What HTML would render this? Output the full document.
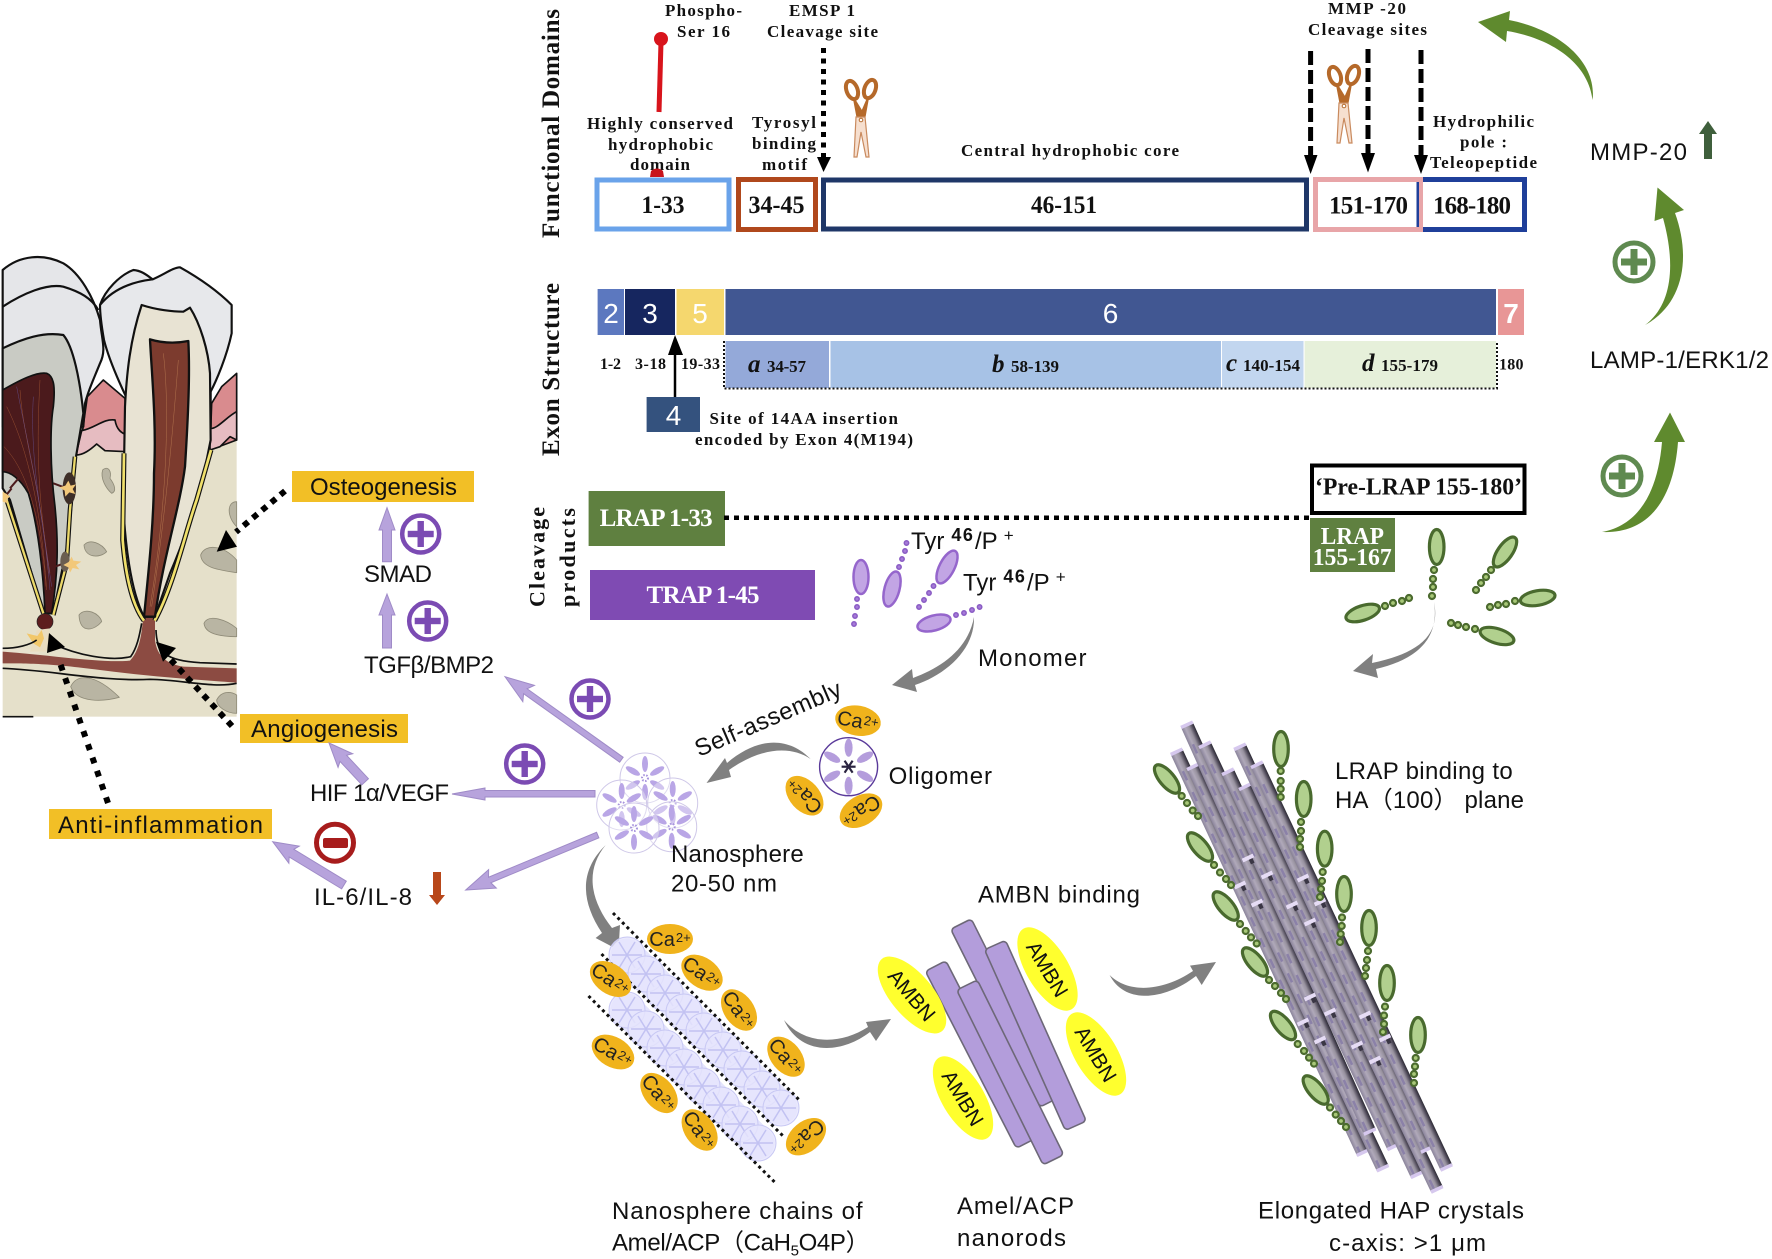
<!DOCTYPE html>
<html lang="en"><head><meta charset="utf-8"><title>Amelogenin diagram</title>
<style>
html,body{margin:0;padding:0;background:#fff;width:1772px;height:1259px;overflow:hidden}
svg{display:block}
.s{font-family:"Liberation Serif",serif;font-weight:bold;fill:#111}
.n{font-family:"Liberation Sans",sans-serif;fill:#111}
.w{font-family:"Liberation Serif",serif;font-weight:bold;fill:#fff}
.e{font-family:"Liberation Sans",sans-serif;fill:#fff}
.l16{font-size:17px}.b22{font-size:25px}.n25{font-size:24px}.sm{font-size:16px}.sm2{font-size:17px}
.ca{font-family:"Liberation Sans",sans-serif;font-size:20px;fill:#222;text-anchor:middle}
.am{font-family:"Liberation Sans",sans-serif;font-size:21px;fill:#111;text-anchor:middle}
</style></head><body>
<svg width="1772" height="1259" viewBox="0 0 1772 1259" xmlns="http://www.w3.org/2000/svg">
<defs>
<linearGradient id="rod" x1="0" y1="0" x2="0" y2="1"><stop offset="0" stop-color="#2a2832"/><stop offset=".18" stop-color="#55505f"/><stop offset=".42" stop-color="#98929f"/><stop offset=".7" stop-color="#b0a9ba"/><stop offset="1" stop-color="#8a839a"/></linearGradient>
<g id="pet"><ellipse cx="0" cy="-14" rx="3" ry="8"/></g>
<g id="fl"><circle r="25" fill="#fff" fill-opacity=".35" stroke="#cfc8e8" stroke-width="1"/><g fill="#b9a6e6"><use href="#pet"/><use href="#pet" transform="rotate(60)"/><use href="#pet" transform="rotate(120)"/><use href="#pet" transform="rotate(180)"/><use href="#pet" transform="rotate(240)"/><use href="#pet" transform="rotate(300)"/></g><circle r="3" fill="none" stroke="#a793dd" stroke-width="2" stroke-dasharray="1.5 1.5"/></g>
<g id="pf"><circle r="18" fill="#e6e5fc" fill-opacity=".8" stroke="#c8c8f4" stroke-width="1"/><g stroke="#c2c2f2" stroke-width="1.5"><line x1="-15" y1="0" x2="15" y2="0"/><line x1="-8" y1="-13" x2="8" y2="13"/><line x1="8" y1="-13" x2="-8" y2="13"/></g></g>
<g id="sci"><g fill="none" stroke="#b5692a" stroke-width="4"><ellipse cx="-9" cy="-30" rx="5.5" ry="9.5" transform="rotate(-20 -9 -30)"/><ellipse cx="9" cy="-31" rx="5.5" ry="9.5" transform="rotate(20 9 -31)"/></g><path d="M-7,-21 L-3,0 L3,0 L7,-22 L1,-8 Z" fill="#b5692a" stroke="#b5692a" stroke-width="2"/><path d="M-5,-3 L4,-3 L8,37 L5,37 L0,12 L-4,37 L-7,37 Z" fill="#f6dfcf" stroke="#c98a5e" stroke-width="1.2"/><circle r="1.8" fill="#fff" stroke="#b5692a"/></g>
<g id="pp"><circle r="18.5" fill="none" stroke="#7b4bb3" stroke-width="4.5"/><rect x="-13" y="-3.2" width="26" height="6.4" fill="#7b4bb3"/><rect x="-3.2" y="-13" width="6.4" height="26" fill="#7b4bb3"/></g>
<g id="gp"><circle r="19" fill="none" stroke="#5f8a50" stroke-width="5"/><rect x="-13" y="-3.5" width="26" height="7" fill="#5f8a50"/><rect x="-3.5" y="-13" width="7" height="26" fill="#5f8a50"/></g>
<g id="ge"><ellipse rx="7.3" ry="17.5" fill="#b1d08e" stroke="#496a2e" stroke-width="3.2"/></g>
<g id="ca"><ellipse rx="23" ry="15" fill="#f0b31c"/></g>
<g id="amb"><ellipse rx="47" ry="21" fill="#ffff2e"/></g>
<g id="cap"><rect x="-2" y="-6" width="4" height="12" fill="#e6dcf5"/><rect x="2" y="-4" width="5" height="4" fill="#3a3644"/></g>
<g id="tcap"><rect x="-2" y="-6.5" width="3.5" height="13" fill="#d6c8ee"/></g>
</defs>
<rect width="1772" height="1259" fill="#fff"/>

<!-- TOOTH -->
<g transform="translate(0,240) scale(.33333)" stroke-linejoin="round">
<rect x="8" y="600" width="702" height="830" fill="#e5e0ca"/>
<g fill="#b9b5a3" stroke="#8f8b78" stroke-width="2.5">
<path d="M308,690 C325,675 335,695 330,715 C345,735 350,755 335,760 C318,745 300,715 308,690Z"/>
<path d="M252,915 C270,895 305,910 320,935 C300,955 255,955 252,915Z"/>
<path d="M237,1125 C255,1100 300,1120 305,1145 C285,1170 240,1185 237,1125Z"/>
<path d="M710,785 C680,785 680,830 710,860Z"/>
<path d="M602,945 C615,910 670,915 710,960 L710,998 C660,990 605,985 602,945Z"/>
<path d="M612,1150 C625,1120 680,1140 710,1165 L710,1190 C670,1190 615,1185 612,1150Z"/>
<path d="M212,1340 C230,1300 285,1300 358,1372 C310,1385 230,1390 212,1340Z"/>
<path d="M650,1380 C665,1350 695,1355 710,1365 L710,1420 C680,1420 650,1400 650,1380Z"/>
</g>
<path d="M248,570 L262,470 L310,420 L375,475 L382,635 L290,612 L228,645 Z" fill="#d98b8e" stroke="#111" stroke-width="5"/>
<path d="M245,572 C285,565 310,535 345,540 C350,570 365,580 382,585 L382,635 L315,632 L290,612 C270,630 250,645 228,645 Z" fill="#e6bcc1" stroke="#111" stroke-width="5"/>
<path d="M635,490 L665,440 L710,400 L710,600 L630,630 Z" fill="#d98b8e" stroke="#111" stroke-width="5"/>
<path d="M630,565 C650,570 680,530 710,515 L710,600 L690,590 L660,620 L630,630 Z" fill="#e6bcc1" stroke="#111" stroke-width="5"/>
<!-- left tooth -->
<path d="M8,90 C60,45 130,40 190,70 C240,100 280,170 300,240 C305,300 320,330 300,370 C280,420 265,450 255,490 L250,560 L30,560 L8,560 Z" fill="#e5e6e9" stroke="#111" stroke-width="6.5"/>
<path d="M8,200 C70,160 140,130 190,140 C240,155 275,175 295,210" fill="none" stroke="#111" stroke-width="6.5"/>
<path d="M8,325 C70,295 130,275 190,285 C220,320 240,420 250,520 L228,650 L205,900 L160,1120 L130,1120 L30,780 L8,745 Z" fill="#c9cbc4" stroke="#111" stroke-width="6.5"/>
<path d="M8,450 C60,420 110,395 140,400 C165,410 165,450 160,500 C150,560 150,680 165,800 C175,900 175,1000 155,1120 L135,1120 C130,1000 115,860 85,760 C60,715 30,695 8,695 Z" fill="#4b1a1c" stroke="#111" stroke-width="5"/>
<g fill="none" stroke="#a85a35" stroke-width="1.5" opacity=".8"><path d="M20,500 C70,600 120,760 140,1050"/><path d="M60,450 C70,600 130,780 145,1000"/><path d="M120,420 C110,600 110,760 150,1000"/><path d="M12,620 C70,680 120,800 138,1040"/></g>
<g fill="none" stroke="#6a5aa8" stroke-width="1.5" opacity=".7"><path d="M50,440 C80,600 130,800 150,1050"/><path d="M100,470 C90,650 120,800 155,1040"/></g>
<path d="M160,730 L200,745 M30,745 L60,710 M15,770 L35,745 M165,980 L205,965" stroke="#4b1a1c" stroke-width="6" fill="none"/>
<path d="M20,780 L130,1120 M225,650 L210,810 L200,970 L160,1125" fill="none" stroke="#111" stroke-width="14"/>
<path d="M20,780 L130,1120 M225,650 L210,810 L200,970 L160,1125" fill="none" stroke="#ecd96a" stroke-width="7"/>
<ellipse cx="208" cy="745" rx="20" ry="48" fill="#3d2e28"/>
<ellipse cx="195" cy="965" rx="14" ry="30" fill="#6b5e50"/>
<g fill="#f2c87a"><path d="M205,722 L212,737 L228,733 L218,747 L226,762 L208,757 L196,770 L194,752 L178,742 L196,737Z"/><path d="M215,950 L220,962 L244,965 L228,975 L238,988 L218,984 L210,998 L205,982 L190,975 L206,966Z"/><path d="M8,755 L20,762 L30,770 L20,778 L24,790 L8,785Z"/></g>
<path d="M85,1228 C60,1220 30,1222 8,1222 L8,1250 L110,1250 L130,1215Z" fill="#e8e1cf"/>
<!-- vessel -->
<path d="M8,1235 C150,1245 300,1270 390,1262 C420,1230 425,1180 430,1130 L465,1125 L465,1200 C470,1240 490,1270 550,1280 L710,1285 L710,1328 C600,1320 450,1310 300,1290 C150,1270 80,1270 8,1270 Z" fill="#8c4b42"/>
<circle cx="135" cy="1145" r="24" fill="#5d1d1e" stroke="#222" stroke-width="2"/>
<path d="M90,1235 L110,1170 L150,1165 L140,1235Z" fill="#e9dcc0"/>
<path d="M80,1180 L112,1188 L125,1170 L132,1195 L120,1222 L100,1210Z" fill="#f2c76a"/>
<g fill="none" stroke="#111" stroke-width="5"><path d="M8,1225 C50,1225 90,1215 110,1200"/><path d="M160,1212 C230,1245 330,1265 392,1250 C410,1225 418,1190 425,1150"/><path d="M468,1170 C470,1240 500,1262 600,1268 L710,1272"/><path d="M8,1285 C150,1290 300,1325 450,1318 C550,1320 640,1345 710,1330"/><path d="M8,1430 L100,1430" /></g>
<!-- right tooth -->
<path d="M300,195 C315,150 360,105 400,90 C425,92 440,105 458,118 C490,105 520,82 540,82 C590,110 650,150 695,195 L695,280 C680,350 650,420 632,455 L632,560 L378,470 C345,400 322,340 312,300 C305,260 300,225 300,195 Z" fill="#e7e8eb" stroke="#111" stroke-width="6.5"/>
<path d="M300,195 C340,145 400,125 458,118" fill="none" stroke="#111" stroke-width="6.5"/>
<path d="M425,195 C470,210 520,215 550,215 L570,203 C600,250 625,330 630,400 L632,600 L620,660 C590,800 540,930 510,1000 L465,1130 L432,1130 C390,1050 375,900 370,800 L375,500 C380,400 390,300 425,195 Z" fill="#e8e3d3" stroke="#111" stroke-width="6.5"/>
<path d="M372,640 L368,900 C378,1020 400,1100 432,1142 M633,630 L590,780 C555,880 520,1040 464,1142" fill="none" stroke="#111" stroke-width="15"/>
<path d="M372,640 L368,900 C378,1020 400,1100 432,1142 M633,630 L590,780 C555,880 520,1040 464,1142" fill="none" stroke="#f0e06c" stroke-width="8"/>
<path d="M450,298 C490,310 530,310 565,303 C570,400 565,520 555,680 C540,800 490,950 465,1130 L432,1130 C445,1000 462,850 462,700 C470,550 455,400 450,298Z" fill="#7c3b2e" stroke="#111" stroke-width="7"/>
<g fill="none" stroke="#c88a5a" stroke-width="1.3" opacity=".8"><path d="M490,340 C510,500 500,800 450,1100"/><path d="M535,360 C520,550 500,800 455,1100"/></g>
</g>

<!-- Dotted arrows tooth -->
<g fill="none" stroke="#000" stroke-width="6">
<path d="M285,491 L236,532" stroke-dasharray="6 6"/>
<path d="M232,726 L170,659" stroke-dasharray="6 6"/>
<path d="M108,803 L60,663" stroke-dasharray="6 8"/>
</g>
<polygon points="216.7,551.7 226,530 237,546.7" fill="#000"/>
<polygon points="156,641.7 176,648 163,661.7" fill="#000"/>
<polygon points="49,633 65,647 47,653" fill="#000"/>

<!-- Yellow labels -->
<rect x="292" y="471" width="182" height="31" fill="#f2bf26"/>
<rect x="240" y="714" width="168" height="29" fill="#f2bf26"/>
<rect x="49" y="809" width="223" height="30" fill="#f2bf26"/>
<text class="n n25" x="310" y="495" textLength="147">Osteogenesis</text>
<text class="n n25" x="251" y="737" textLength="147">Angiogenesis</text>
<text class="n n25" x="58" y="833" textLength="205">Anti-inflammation</text>
<text class="n n25" x="364" y="582" textLength="68">SMAD</text>
<text class="n n25" x="364" y="673" textLength="130">TGFβ/BMP2</text>
<text class="n n25" x="310" y="801" textLength="139">HIF 1α/VEGF</text>
<text class="n n25" x="314" y="905" textLength="98">IL-6/IL-8</text>

<!-- Purple arrows -->
<g fill="#b7a3dc" stroke="#9f8bc7" stroke-width="1">
<polygon points="387,507.7 395,530 391.5,530 391.5,561.7 382.5,561.7 382.5,530 379,530"/>
<polygon points="387,594 395,615 391.5,615 391.5,648 382.5,648 382.5,615 379,615"/>
<g transform="translate(505,676.7) rotate(35.5)"><polygon points="0,0 29,-10 25,-3 143,-3 143,3 25,3 29,10"/></g>
<polygon points="452,794 485,788 485,790.5 595,790.5 595,797 485,797 485,800"/>
<g transform="translate(465.7,890) rotate(-22.6)"><polygon points="0,0 29,-10 26,-3 143,-3 143,3 26,3 29,10"/></g>
<g transform="translate(329,743) rotate(47)"><polygon points="0,0 24,-10 21,-4.5 53,-4.5 53,4.5 21,4.5 24,10"/></g>
<g transform="translate(272.7,841.7) rotate(31.3)"><polygon points="0,0 25,-10 22,-4.5 83.4,-4.5 83.4,4.5 22,4.5 25,10"/></g>
</g>
<use href="#pp" x="420.7" y="534"/>
<use href="#pp" x="427.7" y="621"/>
<use href="#pp" x="590" y="699"/>
<use href="#pp" x="524.7" y="764"/>
<circle cx="335" cy="842.7" r="18.5" fill="none" stroke="#a71c1c" stroke-width="5"/>
<rect x="323" y="838" width="25" height="10" rx="2" fill="#a71c1c"/>
<polygon points="433,872 441,872 441,895 445,895 437,905 429,895 433,895" fill="#b8471a"/>

<!-- Functional Domains -->
<text class="s" font-size="25" transform="translate(559,238) rotate(-90)" textLength="229">Functional Domains</text>
<text class="s" font-size="25" transform="translate(559,456) rotate(-90)" textLength="173">Exon Structure</text>
<text class="s" font-size="22" transform="translate(544.5,607) rotate(-90)" textLength="100">Cleavage</text>
<text class="s" font-size="22" transform="translate(575,607) rotate(-90)" textLength="99">products</text>

<text class="s l16" x="665" y="16" textLength="77">Phospho-</text>
<text class="s l16" x="677" y="37" textLength="53">Ser 16</text>
<text class="s l16" x="789" y="16" textLength="66">EMSP 1</text>
<text class="s l16" x="767" y="37" textLength="111">Cleavage site</text>
<text class="s l16" x="587" y="129" textLength="146">Highly conserved</text>
<text class="s l16" x="608" y="150" textLength="105">hydrophobic</text>
<text class="s l16" x="630" y="170" textLength="60">domain</text>
<text class="s l16" x="752" y="128" textLength="64">Tyrosyl</text>
<text class="s l16" x="752" y="149" textLength="64">binding</text>
<text class="s l16" x="762" y="170" textLength="45">motif</text>
<text class="s l16" x="961" y="156" textLength="218">Central hydrophobic core</text>
<text class="s l16" x="1328" y="14" textLength="78">MMP -20</text>
<text class="s l16" x="1308" y="35" textLength="119">Cleavage sites</text>
<text class="s l16" x="1433" y="127" textLength="101">Hydrophilic</text>
<text class="s l16" x="1460" y="147.5" textLength="47">pole :</text>
<text class="s l16" x="1430" y="168" textLength="107">Teleopeptide</text>

<circle cx="661" cy="39" r="7" fill="#d8141c"/>
<line x1="661" y1="42" x2="659" y2="112" stroke="#d8141c" stroke-width="5"/>
<path d="M650,177 L651,171 Q657,166 663,171 L664,177Z" fill="#c8141c"/>

<line x1="823.5" y1="48" x2="823.5" y2="157" stroke="#000" stroke-width="5" stroke-dasharray="5 5.5"/>
<polygon points="817,157 831,157 823.5,172" fill="#000"/>
<use href="#sci" x="861" y="120"/>
<use href="#sci" x="1344" y="106"/>

<rect x="597" y="180" width="132" height="49" fill="#fff" stroke="#6aa3ea" stroke-width="5"/>
<rect x="738.5" y="179.5" width="77" height="50" fill="#fff" stroke="#b0481c" stroke-width="5"/>
<rect x="823.5" y="180" width="483" height="49" fill="#fff" stroke="#1f3768" stroke-width="5"/>
<rect x="1420" y="179.5" width="104.5" height="50" fill="#fff" stroke="#1f3f9a" stroke-width="5"/>
<rect x="1315.5" y="179.5" width="105" height="50" fill="#fff" stroke="#e8a5a8" stroke-width="5"/>
<rect x="1416.5" y="182" width="2.5" height="45" fill="#1f3f9a"/>
<text class="s b22" x="641.5" y="213" textLength="43" lengthAdjust="spacingAndGlyphs">1-33</text>
<text class="s b22" x="748.5" y="213" textLength="56" lengthAdjust="spacingAndGlyphs">34-45</text>
<text class="s b22" x="1031" y="213" textLength="66" lengthAdjust="spacingAndGlyphs">46-151</text>
<text class="s b22" x="1329" y="213.5" textLength="79">151-170</text>
<text class="s b22" x="1433" y="213.5" textLength="78">168-180</text>

<g stroke="#000" stroke-width="5" stroke-dasharray="14 5">
<line x1="1310.6" y1="51" x2="1310.6" y2="155"/>
<line x1="1368" y1="49" x2="1368" y2="153"/>
<line x1="1421" y1="50" x2="1421" y2="155"/>
</g>
<polygon points="1304,155 1317.5,155 1310.6,174" fill="#000"/>
<polygon points="1361,153 1375,153 1368,172.5" fill="#000"/>
<polygon points="1414,155 1428,155 1421,174" fill="#000"/>

<!-- Green arrows -->
<g fill="#5f8a2e">
<path d="M1592.6,100 C1597,62 1560,30 1509,20 L1510,11 L1478,22 L1506,42 L1507,31 C1550,38 1588,62 1592.6,100Z"/>
<path d="M1645,325 C1682,305 1692,260 1675,213 L1684,210 L1657.5,187.5 L1654.5,221 L1663,218 C1676,265 1672,305 1645,325Z"/>
<path d="M1602,532 C1652,534 1674,495 1678,442 L1685,442 L1670,412.5 L1654,442 L1662,442 C1658,490 1640,525 1602,532Z"/>
</g>
<use href="#gp" x="1634" y="262"/>
<use href="#gp" x="1622" y="476"/>
<text class="n n25" x="1590" y="160" textLength="97">MMP-20</text>
<text class="n n25" x="1590" y="368" textLength="179">LAMP-1/ERK1/2</text>
<polygon points="1708,121 1717,134 1712,134 1712,159 1704,159 1704,134 1699,134" fill="#3f5f3c"/>

<!-- Exon -->
<rect x="597.6" y="289" width="26.4" height="46" fill="#5c78bf"/>
<rect x="625" y="289" width="50" height="46" fill="#16265f"/>
<rect x="676.5" y="289" width="47.5" height="46" fill="#f5d76e"/>
<rect x="725.5" y="289" width="770.5" height="46" fill="#415792"/>
<rect x="1498" y="289" width="26" height="46" fill="#e89696"/>
<g font-size="28" text-anchor="middle">
<text class="e" x="611" y="323">2</text>
<text class="e" x="650" y="323">3</text>
<text class="e" x="700" y="323">5</text>
<text class="e" x="1110.6" y="323">6</text>
<text class="e" x="1511" y="323" font-weight="bold">7</text>
</g>
<rect x="725.5" y="341" width="103.5" height="47" fill="#94a9d9"/>
<rect x="830.5" y="341" width="390.5" height="47" fill="#a7c2e6"/>
<rect x="1222" y="341" width="81.5" height="47" fill="#c2d6ef"/>
<rect x="1304.6" y="341" width="191.4" height="47" fill="#e6f0da"/>
<path d="M724,341 V388.5 H1497 V341" fill="none" stroke="#111" stroke-width="2" stroke-dasharray="2 2"/>
<text class="s sm" x="600" y="369" textLength="21">1-2</text>
<text class="s sm" x="635" y="369" textLength="31">3-18</text>
<text class="s sm" x="681" y="369" textLength="39">19-33</text>
<text class="s sm" x="1499" y="369.6" textLength="24.5">180</text>
<text class="s sm2" x="767" y="372" textLength="39">34-57</text>
<text class="s sm2" x="1011" y="372" textLength="48">58-139</text>
<text class="s sm2" x="1243" y="371" textLength="57">140-154</text>
<text class="s sm2" x="1381" y="371" textLength="57">155-179</text>
<text class="s" font-size="25" font-style="italic" x="748" y="372">a</text>
<text class="s" font-size="25" font-style="italic" x="992" y="372">b</text>
<text class="s" font-size="25" font-style="italic" x="1226" y="371">c</text>
<text class="s" font-size="25" font-style="italic" x="1362" y="371">d</text>
<rect x="646.6" y="397" width="53.4" height="35" fill="#34527e"/>
<text class="e" font-size="28" x="673.5" y="425" text-anchor="middle">4</text>
<line x1="675" y1="355" x2="675" y2="397" stroke="#000" stroke-width="2.5"/>
<polygon points="675,335 683,355 668,355" fill="#000"/>
<text class="s l16" x="709.5" y="424" textLength="188.5">Site of 14AA insertion</text>
<text class="s l16" x="695" y="445" textLength="218">encoded by Exon 4(M194)</text>

<!-- Cleavage products -->
<rect x="588.6" y="491" width="136.4" height="55" fill="#5f8040"/>
<text class="w b22" x="599.6" y="526" textLength="113">LRAP 1-33</text>
<rect x="590" y="570" width="225" height="50" fill="#7f4bb3"/>
<text class="w b22" x="646.5" y="603" textLength="113">TRAP 1-45</text>
<line x1="724" y1="517.7" x2="1312" y2="517.7" stroke="#000" stroke-width="4.5" stroke-dasharray="5 5"/>
<rect x="1312" y="465.5" width="212.5" height="47.5" fill="#fff" stroke="#000" stroke-width="4"/>
<text class="s" font-size="24" x="1315" y="494.6" textLength="207" lengthAdjust="spacingAndGlyphs">‘Pre-LRAP 155-180’</text>
<rect x="1310" y="518" width="85" height="54" fill="#5f8040"/>
<text class="w" font-size="24" x="1320.7" y="544" textLength="63.3" lengthAdjust="spacingAndGlyphs">LRAP</text>
<text class="w" font-size="24" x="1312.7" y="565" textLength="79" lengthAdjust="spacingAndGlyphs">155-167</text>

<!-- Monomers -->
<g fill="#c2a5e4" stroke="#9566cc" stroke-width="2.5">
<ellipse cx="861" cy="577" rx="7.5" ry="17"/>
<ellipse cx="892" cy="589" rx="7.5" ry="18" transform="rotate(15 892 589)"/>
<ellipse cx="947" cy="567" rx="7.5" ry="18" transform="rotate(27 947 567)"/>
<ellipse cx="934" cy="623" rx="17" ry="7.5" transform="rotate(-15 934 623)"/>
</g>
<g fill="#a67ad8" stroke="#8a5cc4" stroke-width="1.5">
<circle cx="857" cy="599" r="2.2"/><circle cx="857" cy="607" r="2.2"/><circle cx="855" cy="616" r="2.2"/><circle cx="854" cy="624" r="2.2"/>
<circle cx="899" cy="567" r="2.2"/><circle cx="902" cy="559" r="2.2"/><circle cx="905" cy="551" r="2.2"/><circle cx="906.5" cy="543" r="2.2"/>
<circle cx="933.5" cy="586" r="2.2"/><circle cx="929" cy="593" r="2.2"/><circle cx="924" cy="600" r="2.2"/><circle cx="919" cy="607" r="2.2"/>
<circle cx="956" cy="615" r="2.2"/><circle cx="964" cy="613" r="2.2"/><circle cx="972" cy="610" r="2.2"/><circle cx="979.6" cy="607" r="2.2"/>
</g>
<text class="n n25" x="911" y="549">Tyr<tspan x="951.4" y="541" font-size="18" font-weight="bold" letter-spacing="1.5">46</tspan><tspan x="975" y="549">/P</tspan><tspan x="1003.7" y="541" font-size="17">+</tspan></text>
<text class="n n25" x="963" y="590.6">Tyr<tspan x="1003.4" y="582.6" font-size="18" font-weight="bold" letter-spacing="1.5">46</tspan><tspan x="1027" y="590.6">/P</tspan><tspan x="1055.7" y="582.6" font-size="17">+</tspan></text>
<text class="n n25" x="978" y="666" textLength="108.5">Monomer</text>
<text class="n n25" x="888.6" y="784" textLength="103.4">Oligomer</text>
<text class="n n25" transform="translate(699,757) rotate(-23.2)" textLength="157">Self-assembly</text>

<!-- Gray arrows -->
<g fill="#808080">
<path d="M974,617 C975,650 945,675 915,685 L917,692 L892,685 L912,669 L913,678 C940,668 968,650 974,617 Z"/>
<path d="M810.6,759 C790,738 760,735 727,763 L725,758 L706.5,783 L731,777 L729,770 C760,748 790,745 810.6,759 Z"/>
<path d="M605.7,845 C580,870 580,900 602,933 L595.6,938 L618.5,950 L620,925 L612,928 C590,900 585,870 605.7,845 Z"/>
<path d="M784,1020 C800,1055 840,1055 870,1032 L876,1041 L891,1019 L866,1022 L868,1027 C840,1045 805,1045 784,1020Z"/>
<path d="M1109.6,975 C1125,1005 1165,1000 1196,976 L1201.7,985 L1216,962 L1190,965.6 L1193,971 C1165,990 1130,995 1109.6,975 Z"/>
<path d="M1434,602 C1442,640 1410,655 1372,663 L1373,654 L1353,671 L1378,678 L1376,669 C1415,660 1440,640 1434,602 Z"/>
</g>

<!-- Oligomer -->
<circle cx="848.6" cy="766.7" r="29" fill="#fff" stroke="#5a3a9a" stroke-width="1.4"/>
<g transform="translate(848.6,766.7)" fill="#b49ddc"><ellipse cx="0" cy="-19" rx="4" ry="9"/><ellipse cx="0" cy="-19" rx="4" ry="9" transform="rotate(60)"/><ellipse cx="0" cy="-19" rx="4" ry="9" transform="rotate(120)"/><ellipse cx="0" cy="-19" rx="4" ry="9" transform="rotate(180)"/><ellipse cx="0" cy="-19" rx="4" ry="9" transform="rotate(240)"/><ellipse cx="0" cy="-19" rx="4" ry="9" transform="rotate(300)"/></g>
<g stroke="#2a2440" stroke-width="2.2" transform="translate(848.6,766.7)"><line x1="-7" y1="0" x2="7" y2="0"/><line x1="-4" y1="-6" x2="4" y2="6"/><line x1="4" y1="-6" x2="-4" y2="6"/></g>

<!-- Nanosphere -->
<use href="#fl" x="645" y="778"/><use href="#fl" x="621.7" y="805"/><use href="#fl" x="672.7" y="803"/><use href="#fl" x="671.7" y="826.7"/><use href="#fl" x="634" y="828"/>
<text class="n n25" x="671" y="862" textLength="132.7">Nanosphere</text>
<text class="n n25" x="671" y="891.7" textLength="106">20-50 nm</text>

<!-- Ca near oligomer -->
<g transform="translate(858,720.7) rotate(10)"><use href="#ca"/><text class="ca" y="7">Ca<tspan font-size="13" dy="-4" dx="1">2+</tspan></text></g>
<g transform="translate(804.5,795.7) rotate(228)"><use href="#ca"/><text class="ca" y="7">Ca<tspan font-size="13" dy="-4" dx="1">2+</tspan></text></g>
<g transform="translate(861,810.7) rotate(150)"><use href="#ca"/><text class="ca" y="7">Ca<tspan font-size="13" dy="-4" dx="1">2+</tspan></text></g>

<!-- Chains -->
<line x1="627" y1="955" x2="781" y2="1108" stroke="#e4e4fc" stroke-width="33" stroke-linecap="round"/>
<line x1="627" y1="1010" x2="758" y2="1143" stroke="#e4e4fc" stroke-width="33" stroke-linecap="round"/>
<use href="#pf" x="627" y="955"/><use href="#pf" x="646" y="974"/><use href="#pf" x="665" y="993"/><use href="#pf" x="684" y="1012"/><use href="#pf" x="704" y="1031"/><use href="#pf" x="723" y="1050"/><use href="#pf" x="742" y="1069"/><use href="#pf" x="762" y="1089"/><use href="#pf" x="781" y="1108"/>
<use href="#pf" x="627" y="1010"/><use href="#pf" x="646" y="1029"/><use href="#pf" x="665" y="1048"/><use href="#pf" x="684" y="1067"/><use href="#pf" x="702" y="1086"/><use href="#pf" x="721" y="1105"/><use href="#pf" x="740" y="1124"/><use href="#pf" x="758" y="1143"/>
<g stroke="#111" stroke-width="3" stroke-dasharray="3 3.5">
<line x1="613" y1="913" x2="801" y2="1101.7"/>
<line x1="601.5" y1="954" x2="785" y2="1138"/>
<line x1="588.5" y1="996" x2="775.5" y2="1183"/>
</g>
<g transform="translate(670,939) rotate(0)"><use href="#ca"/><text class="ca" y="7">Ca<tspan font-size="13" dy="-4" dx="1">2+</tspan></text></g>
<g transform="translate(702,972.7) rotate(35)"><use href="#ca"/><text class="ca" y="7">Ca<tspan font-size="13" dy="-4" dx="1">2+</tspan></text></g>
<g transform="translate(739,1010) rotate(55)"><use href="#ca"/><text class="ca" y="7">Ca<tspan font-size="13" dy="-4" dx="1">2+</tspan></text></g>
<g transform="translate(786,1056.7) rotate(50)"><use href="#ca"/><text class="ca" y="7">Ca<tspan font-size="13" dy="-4" dx="1">2+</tspan></text></g>
<g transform="translate(610.6,979) rotate(35)"><use href="#ca"/><text class="ca" y="7">Ca<tspan font-size="13" dy="-4" dx="1">2+</tspan></text></g>
<g transform="translate(613,1052) rotate(30)"><use href="#ca"/><text class="ca" y="7">Ca<tspan font-size="13" dy="-4" dx="1">2+</tspan></text></g>
<g transform="translate(659,1093) rotate(50)"><use href="#ca"/><text class="ca" y="7">Ca<tspan font-size="13" dy="-4" dx="1">2+</tspan></text></g>
<g transform="translate(699.6,1130) rotate(55)"><use href="#ca"/><text class="ca" y="7">Ca<tspan font-size="13" dy="-4" dx="1">2+</tspan></text></g>
<g transform="translate(806,1136.7) rotate(140)"><use href="#ca"/><text class="ca" y="7">Ca<tspan font-size="13" dy="-4" dx="1">2+</tspan></text></g>

<text class="n n25" x="612" y="1219" textLength="250.5">Nanosphere chains of</text>
<text class="n n25" x="612" y="1250.7" textLength="257.6">Amel/ACP<tspan font-family="Noto Sans CJK SC">（</tspan>CaH<tspan font-size="15" dy="5">5</tspan><tspan dy="-5">O4P</tspan><tspan font-family="Noto Sans CJK SC">）</tspan></text>

<!-- Nanorods -->
<g fill="#b39ddb" stroke="#6d6878" stroke-width="1.6">
<g transform="translate(961,924) rotate(63.4)"><rect x="0" y="-11.5" width="199" height="23" rx="4"/></g>
<g transform="translate(995,945) rotate(65.9)"><rect x="0" y="-11.5" width="198" height="23" rx="4"/></g>
<g transform="translate(935.6,966) rotate(62.8)"><rect x="0" y="-11.5" width="199" height="23" rx="4"/></g>
<g transform="translate(967,985) rotate(63.7)"><rect x="0" y="-11.5" width="195" height="23" rx="4"/></g>
</g>
<g transform="translate(912,995) rotate(50)"><use href="#amb"/><text class="am" y="7.5">AMBN</text></g>
<g transform="translate(1047.5,969) rotate(59)"><use href="#amb"/><text class="am" y="7.5">AMBN</text></g>
<g transform="translate(1096,1054) rotate(59)"><use href="#amb"/><text class="am" y="7.5">AMBN</text></g>
<g transform="translate(963,1098) rotate(59)"><use href="#amb"/><text class="am" y="7.5">AMBN</text></g>
<text class="n n25" x="978" y="902.7" textLength="162">AMBN binding</text>
<text class="n n25" x="957" y="1214" textLength="117">Amel/ACP</text>
<text class="n n25" x="957" y="1246" textLength="109">nanorods</text>

<!-- Crystals: left bundle -->
<g fill="url(#rod)">
<g transform="translate(1176.7,752) rotate(65.1)"><rect width="442" y="-6.5" height="13"/><line x1="20" x2="442" y1="2.5" y2="2.5" stroke="#8b81a8" stroke-width="2.5" stroke-dasharray="10 13"/><use href="#tcap"/><use href="#tcap" x="442"/></g>
<g transform="translate(1193,767) rotate(64.7)"><rect width="444" y="-6.5" height="13"/><line x1="20" x2="444" y1="2.5" y2="2.5" stroke="#8b81a8" stroke-width="2.5" stroke-dasharray="10 13"/><use href="#tcap"/><use href="#tcap" x="444"/></g>
<g transform="translate(1187,725) rotate(65.8)"><rect width="446" y="-6.5" height="13"/><line x1="20" x2="446" y1="2.5" y2="2.5" stroke="#8b81a8" stroke-width="2.5" stroke-dasharray="10 13"/><use href="#tcap"/><use href="#tcap" x="446"/></g>
<g transform="translate(1205,745) rotate(64.9)"><rect width="444" y="-6.5" height="13"/><line x1="20" x2="444" y1="2.5" y2="2.5" stroke="#8b81a8" stroke-width="2.5" stroke-dasharray="10 13"/><use href="#tcap"/><use href="#tcap" x="444"/></g>
</g>
<line x1="1230" y1="775" x2="1267" y2="862" stroke="#fff" stroke-width="1.4"/>
<line x1="1353" y1="1040" x2="1393" y2="1127" stroke="#fff" stroke-width="1.4"/>
<!-- Crystals: right bundle -->
<g fill="url(#rod)">
<g transform="translate(1228,772) rotate(64.9)"><rect width="445" y="-6.5" height="13"/><line x1="20" x2="445" y1="2.5" y2="2.5" stroke="#8b81a8" stroke-width="2.5" stroke-dasharray="10 13"/><use href="#tcap"/><use href="#tcap" x="445"/></g>
<g transform="translate(1245,787) rotate(64.5)"><rect width="446" y="-6.5" height="13"/><line x1="20" x2="446" y1="2.5" y2="2.5" stroke="#8b81a8" stroke-width="2.5" stroke-dasharray="10 13"/><use href="#tcap"/><use href="#tcap" x="446"/></g>
<g transform="translate(1240,747) rotate(65.1)"><rect width="444" y="-6.5" height="13"/><line x1="20" x2="444" y1="2.5" y2="2.5" stroke="#8b81a8" stroke-width="2.5" stroke-dasharray="10 13"/><use href="#tcap"/><use href="#tcap" x="444"/></g>
<g transform="translate(1257,765) rotate(64.8)"><rect width="445" y="-6.5" height="13"/><line x1="20" x2="445" y1="2.5" y2="2.5" stroke="#8b81a8" stroke-width="2.5" stroke-dasharray="10 13"/><use href="#tcap"/><use href="#tcap" x="445"/></g>
</g>
<use href="#cap" transform="translate(1248,858) rotate(65)"/><use href="#cap" transform="translate(1267,875) rotate(65)"/><use href="#cap" transform="translate(1240,885) rotate(65)"/><use href="#cap" transform="translate(1257,903) rotate(65)"/>
<use href="#cap" transform="translate(1303,878) rotate(65)"/><use href="#cap" transform="translate(1292,905) rotate(65)"/><use href="#cap" transform="translate(1320,902) rotate(65)"/><use href="#cap" transform="translate(1310,922) rotate(65)"/>
<use href="#cap" transform="translate(1310,997) rotate(65)"/><use href="#cap" transform="translate(1330,1012) rotate(65)"/><use href="#cap" transform="translate(1303,1022) rotate(65)"/><use href="#cap" transform="translate(1320,1040) rotate(65)"/>
<use href="#cap" transform="translate(1365,1015) rotate(65)"/><use href="#cap" transform="translate(1357,1045) rotate(65)"/><use href="#cap" transform="translate(1385,1038) rotate(65)"/><use href="#cap" transform="translate(1375,1060) rotate(65)"/>

<!-- LRAP green -->
<g>
<use href="#ge" x="1281" y="749"/><use href="#ge" x="1303.7" y="799"/><use href="#ge" x="1324.7" y="848.7"/><use href="#ge" x="1344" y="894"/><use href="#ge" x="1369" y="928"/><use href="#ge" x="1387" y="983"/><use href="#ge" x="1418" y="1035"/>
<use href="#ge" transform="translate(1167,779) rotate(-40)"/><use href="#ge" transform="translate(1200,847) rotate(-40)"/><use href="#ge" transform="translate(1225.7,906) rotate(-40)"/><use href="#ge" transform="translate(1255,962) rotate(-40)"/><use href="#ge" transform="translate(1283,1025.5) rotate(-40)"/><use href="#ge" transform="translate(1315.7,1090) rotate(-40)"/>
<use href="#ge" x="1436.7" y="547"/><use href="#ge" transform="translate(1505,552) rotate(35)"/><use href="#ge" transform="translate(1537.7,598) rotate(80)"/><use href="#ge" transform="translate(1497,636) rotate(-73)"/><use href="#ge" transform="translate(1362.7,613) rotate(72)"/>
</g>
<g fill="#a8c878" stroke="#4c6b2f" stroke-width="2.2">
<circle cx="1280.7" cy="771" r="3"/><circle cx="1280.7" cy="781" r="3"/><circle cx="1280.7" cy="789" r="3"/><circle cx="1280.7" cy="797" r="3"/>
<circle cx="1301" cy="822" r="3"/><circle cx="1301" cy="831" r="3"/><circle cx="1300" cy="839" r="3"/><circle cx="1300" cy="847" r="3"/>
<circle cx="1322.7" cy="872" r="3"/><circle cx="1322" cy="881" r="3"/><circle cx="1321" cy="889" r="3"/><circle cx="1320" cy="897" r="3"/>
<circle cx="1342" cy="917.5" r="3"/><circle cx="1341.7" cy="926" r="3"/><circle cx="1340.7" cy="934" r="3"/><circle cx="1340" cy="942" r="3"/>
<circle cx="1368" cy="951" r="3"/><circle cx="1367" cy="960" r="3"/><circle cx="1366" cy="968" r="3"/><circle cx="1365" cy="976" r="3"/>
<circle cx="1385" cy="1006.6" r="3"/><circle cx="1384" cy="1015.5" r="3"/><circle cx="1384" cy="1024" r="3"/><circle cx="1383" cy="1032" r="3"/>
<circle cx="1415.7" cy="1058" r="3"/><circle cx="1415" cy="1066.5" r="3"/><circle cx="1414" cy="1074" r="3"/><circle cx="1414" cy="1083" r="3"/>
<circle cx="1181.7" cy="796" r="3"/><circle cx="1187" cy="803" r="3"/><circle cx="1192.7" cy="810.5" r="3"/><circle cx="1198" cy="816" r="3"/>
<circle cx="1214" cy="865" r="3"/><circle cx="1220" cy="872.5" r="3"/><circle cx="1226" cy="879" r="3"/><circle cx="1231" cy="885" r="3"/>
<circle cx="1240" cy="924" r="3"/><circle cx="1245.7" cy="931" r="3"/><circle cx="1251" cy="937.4" r="3"/><circle cx="1256.7" cy="943.5" r="3"/>
<circle cx="1269" cy="980" r="3"/><circle cx="1275" cy="986" r="3"/><circle cx="1281" cy="993" r="3"/><circle cx="1286" cy="999" r="3"/>
<circle cx="1297.7" cy="1044" r="3"/><circle cx="1304" cy="1051" r="3"/><circle cx="1309" cy="1057.6" r="3"/><circle cx="1314" cy="1063.6" r="3"/>
<circle cx="1330" cy="1107.5" r="3"/><circle cx="1335.7" cy="1114.6" r="3"/><circle cx="1341" cy="1121" r="3"/><circle cx="1346" cy="1127" r="3"/>
<circle cx="1434" cy="570" r="3"/><circle cx="1433" cy="579" r="3"/><circle cx="1433" cy="587" r="3"/><circle cx="1432" cy="596" r="3"/>
<circle cx="1491" cy="570" r="3"/><circle cx="1486" cy="577" r="3"/><circle cx="1481" cy="583" r="3"/><circle cx="1476" cy="590" r="3"/>
<circle cx="1515" cy="601" r="3"/><circle cx="1506" cy="604" r="3"/><circle cx="1498" cy="605" r="3"/><circle cx="1490" cy="607" r="3"/>
<circle cx="1475" cy="629" r="3"/><circle cx="1466" cy="627" r="3"/><circle cx="1458" cy="625" r="3"/><circle cx="1451" cy="623" r="3"/>
<circle cx="1385" cy="606" r="3"/><circle cx="1393" cy="603" r="3"/><circle cx="1402" cy="601" r="3"/><circle cx="1409" cy="598" r="3"/>
</g>
<text class="n n25" x="1335" y="779" textLength="177.7">LRAP binding to</text>
<text class="n n25" x="1335" y="808" textLength="189">HA<tspan font-family="Noto Sans CJK SC">（</tspan>100<tspan font-family="Noto Sans CJK SC">）</tspan> plane</text>
<text class="n n25" x="1258" y="1218.7" textLength="266">Elongated HAP crystals</text>
<text class="n n25" x="1329" y="1250.8" textLength="157">c-axis: &gt;1 μm</text>
</svg>
</body></html>
